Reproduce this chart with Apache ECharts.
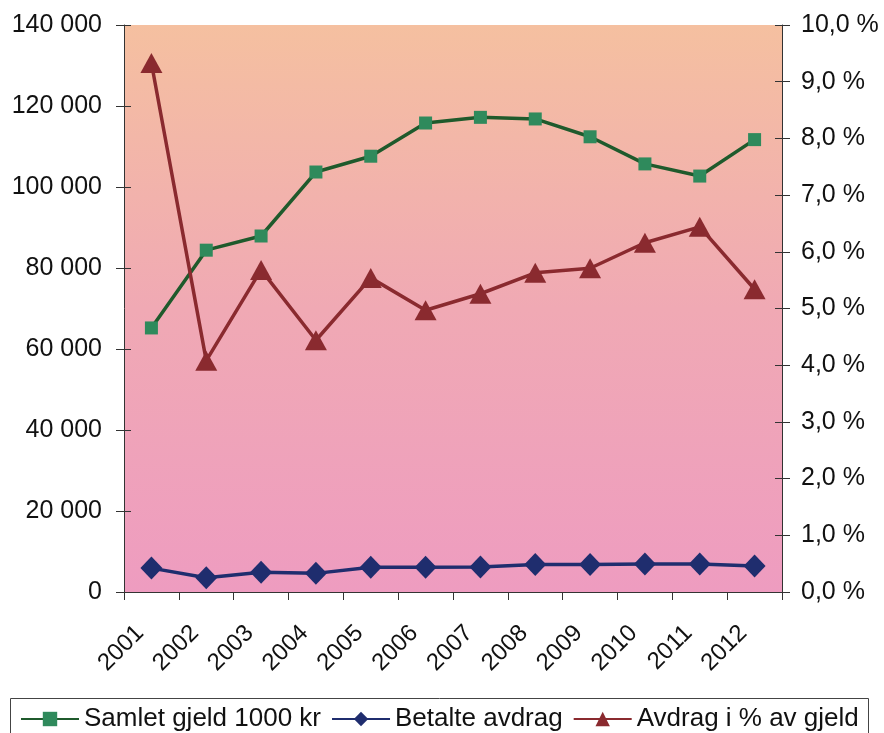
<!DOCTYPE html>
<html><head><meta charset="utf-8">
<script src="https://cdn.jsdelivr.net/npm/echarts@6/dist/echarts.min.js"></script>
<style>html,body{margin:0;padding:0;background:#fff}#c{width:884px;height:733px}</style>
</head><body><div id="c"></div>
<script>
const years = ['2001','2002','2003','2004','2005','2006','2007','2008','2009','2010','2011','2012'];
const samletGjeld = [65200, 84400, 87900, 103700, 107600, 115800, 117200, 116800, 112400, 105700, 102700, 111700];
const betalteAvdrag = [5900, 3500, 4900, 4600, 6100, 6100, 6200, 6800, 6800, 6900, 6900, 6400];
const avdragProsent = [9.33, 4.08, 5.68, 4.44, 5.54, 4.97, 5.26, 5.63, 5.71, 6.16, 6.44, 5.34];
const leftTicks = {min: 0, max: 140000, interval: 20000};
const rightTicks = {min: 0, max: 10, interval: 1};

const font = 'Liberation Sans, Arial, sans-serif';
const tickStyle = {color: '#333', width: 1};
const chart = echarts.init(document.getElementById('c'), null, {renderer: 'canvas'});
function innerTicks(pos, t) {
  return {type: 'value', position: pos, min: t.min, max: t.max, interval: t.interval,
    axisLine: {show: false}, axisLabel: {show: false}, splitLine: {show: false},
    axisTick: {show: true, inside: true, length: 7, lineStyle: tickStyle}};
}
chart.setOption({
  animation: false,
  backgroundColor: '#ffffff',
  textStyle: {fontFamily: font},
  graphic: [{
    type: 'rect', left: 10, top: 698, z: 0,
    shape: {width: 858, height: 45},
    style: {fill: '#fff', stroke: '#444', lineWidth: 1}
  }],
  grid: {left: 124, right: 102, top: 25, bottom: 141, show: true,
    backgroundColor: new echarts.graphic.LinearGradient(0, 0, 0, 1, [
      {offset: 0, color: '#f5c0a0'},
      {offset: 0.5, color: '#f0a9b4'},
      {offset: 1, color: '#ee9cc0'}
    ]),
    borderWidth: 0},
  legend: {
    left: 20, top: 706, z: 5, padding: 0,
    itemWidth: 58, itemHeight: 18, itemGap: 10,
    textStyle: {fontSize: 26, color: '#111', fontFamily: font},
    data: ['Samlet gjeld 1000 kr', 'Betalte avdrag', 'Avdrag i % av gjeld']
  },
  xAxis: {
    type: 'category', data: years, boundaryGap: true,
    axisLine: {lineStyle: {color: '#333', width: 1}},
    axisTick: {show: true, length: 8, lineStyle: tickStyle},
    axisLabel: {rotate: 45, fontSize: 24, color: '#111', margin: 26, interval: 0,
      padding: [0, 16, 0, 0], fontFamily: font},
    splitLine: {show: false}
  },
  yAxis: [{
    type: 'value', min: leftTicks.min, max: leftTicks.max, interval: leftTicks.interval,
    axisLine: {show: true, lineStyle: {color: '#333', width: 1}},
    axisTick: {show: true, length: 8, lineStyle: tickStyle},
    axisLabel: {fontSize: 25, color: '#111', margin: 22, fontFamily: font,
      formatter: v => String(v).replace(/\B(?=(\d{3})+(?!\d))/g, ' ')},
    splitLine: {show: false}
  }, {
    type: 'value', position: 'right', min: rightTicks.min, max: rightTicks.max, interval: rightTicks.interval,
    axisLine: {show: true, lineStyle: {color: '#333', width: 1}},
    axisTick: {show: true, length: 8, lineStyle: tickStyle},
    axisLabel: {fontSize: 25, color: '#111', margin: 19, fontFamily: font,
      formatter: v => v.toFixed(1).replace('.', ',') + ' %'},
    splitLine: {show: false}
  }, innerTicks('left', leftTicks), innerTicks('right', rightTicks)],
  series: [{
    name: 'Samlet gjeld 1000 kr', type: 'line', yAxisIndex: 0, data: samletGjeld,
    symbol: 'rect', symbolSize: 13,
    lineStyle: {color: '#1f5a2c', width: 3.5},
    itemStyle: {color: '#2f8a5c', borderWidth: 0}
  }, {
    name: 'Betalte avdrag', type: 'line', yAxisIndex: 0, data: betalteAvdrag,
    symbol: 'diamond', symbolSize: [22, 23],
    lineStyle: {color: '#1f2d6e', width: 3.5},
    itemStyle: {color: '#1f2d6e', borderWidth: 0}
  }, {
    name: 'Avdrag i % av gjeld', type: 'line', yAxisIndex: 1, data: avdragProsent,
    symbol: 'triangle', symbolSize: [22, 20],
    lineStyle: {color: '#8a2a2f', width: 3.5},
    itemStyle: {color: '#8a2a2f', borderWidth: 0}
  }]
});
</script></body></html>
